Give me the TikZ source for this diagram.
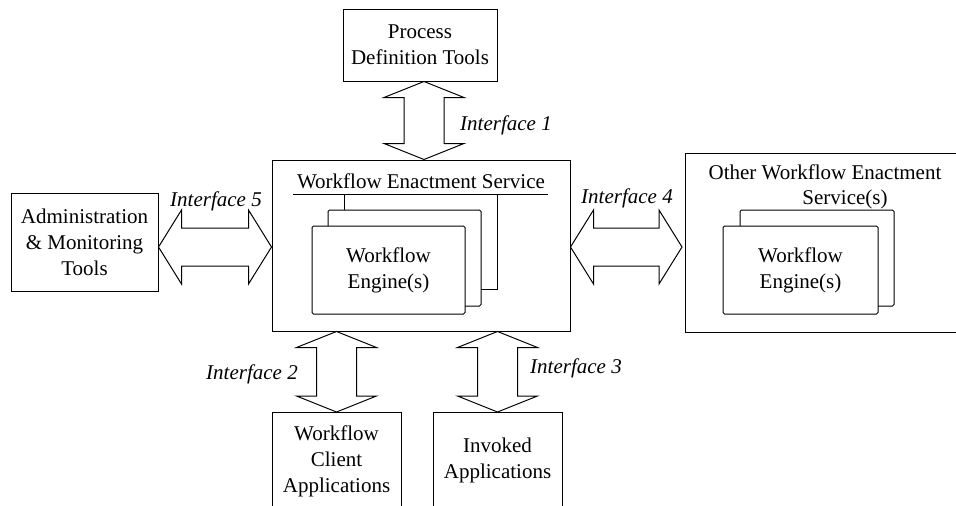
\documentclass[tikz,border=0pt]{standalone}
\usepackage{fontspec}
\setmainfont{Liberation Serif}
\usetikzlibrary{calc}
\newcommand{\vdarr}[2]{\draw[barrow] #1 -- ($#1+(40,16)$) -- ($#1+(20,16)$) -- ($#2+(20,-16)$) -- ($#2+(40,-16)$) -- #2 -- ($#2+(-40,-16)$) -- ($#2+(-20,-16)$) -- ($#1+(-20,16)$) -- ($#1+(-40,16)$) -- cycle;}
\newcommand{\hdarr}[2]{\draw[barrow] #1 -- ($#1+(23,-37)$) -- ($#1+(23,-19)$) -- ($#2+(-23,-19)$) -- ($#2+(-23,-37)$) -- #2 -- ($#2+(-23,37)$) -- ($#2+(-23,19)$) -- ($#1+(23,19)$) -- ($#1+(23,37)$) -- cycle;}
\begin{document}
\begin{tikzpicture}[x=1pt,y=-1pt,
  font=\fontsize{21}{26}\selectfont,
  box/.style={draw, line width=1pt, inner sep=0pt, align=center},
  engine/.style={draw, line width=1pt, inner sep=0pt, align=center, fill=white, rounded corners=1.5pt},
  txt/.style={inner sep=0pt, align=center},
  lbl/.style={inner sep=0pt, font=\fontsize{21}{26}\selectfont\itshape},
  barrow/.style={draw, line width=1pt, fill=white, line join=miter},
  edge/.style={line width=1pt}]
\useasboundingbox (0,0) rectangle (956,506);
% boxes
\node[box, minimum width=154pt, minimum height=72pt] (pdt) at (420,45) {Process\\Definition Tools};
\node[box, minimum width=298pt, minimum height=171pt] (wes) at (421,245.5) {};
\node[txt] (westitle) at (421,181) {Workflow Enactment Service};
\coordinate (ulL) at (293,194);
\coordinate (ulR) at (548,194);
\draw[edge] (ulL) -- (ulR);
\node[engine, minimum width=153pt, minimum height=96pt] (engb) at (404.5,258) {};
\node[engine, minimum width=153pt, minimum height=88pt] (eng) at (388.5,270) {Workflow\\Engine(s)};
\draw[edge] (344,194) -- (344,210);
\draw[edge] (497,194) -- (497,289) -- (481,289);
\node[box, minimum width=147pt, minimum height=98pt] (admin) at (84.5,242) {Administration\\\&~Monitoring\\Tools};
% other WES (open on the right)
\coordinate (oth) at (685,247);
\draw[edge] (956,153) -- (685,153) -- (685,332) -- (956,332);
\node[txt] (othtitle1) at (825,172) {Other Workflow Enactment};
\node[txt] (othtitle2) at (845,199) {Service(s)};
\node[engine, minimum width=154pt, minimum height=96pt] (oengb) at (817,258) {};
\node[engine, minimum width=155pt, minimum height=88pt] (oeng) at (800.5,270) {Workflow\\Engine(s)};
% client and invoked (open at the bottom)
\coordinate (cl) at (336.5,412);
\coordinate (inv) at (497.5,412);
\draw[edge] (272,506) -- (272,412) -- (401,412) -- (401,506);
\draw[edge] (433,506) -- (433,412) -- (562,412) -- (562,506);
\node[txt] (cltxt) at (336.5,461) {Workflow\\Client\\Applications};
\node[txt] (invtxt) at (497.5,460) {Invoked\\Applications};
% block arrows
\coordinate (a1t) at ([xshift=4pt]pdt.south);
\coordinate (a1b) at (a1t |- wes.north);
\vdarr{(a1t)}{(a1b)}
\coordinate (a2t) at (cl |- wes.south);
\vdarr{(a2t)}{(cl)}
\coordinate (a3t) at (inv |- wes.south);
\vdarr{(a3t)}{(inv)}
\coordinate (a5l) at ([yshift=-5pt]admin.east);
\coordinate (a5r) at (a5l -| wes.west);
\hdarr{(a5l)}{(a5r)}
\coordinate (a4l) at (wes.east |- oth);
\coordinate (a4r) at ([xshift=-3pt]oth);
\hdarr{(a4l)}{(a4r)}
% labels
\node[lbl] (i1) at (506,125) {Interface 1};
\node[lbl] (i2) at (252,374) {Interface 2};
\node[lbl] (i3) at (576,368) {Interface 3};
\node[lbl] (i4) at (627,198) {Interface 4};
\node[lbl] (i5) at (216,201) {Interface 5};
\end{tikzpicture}
\end{document}
